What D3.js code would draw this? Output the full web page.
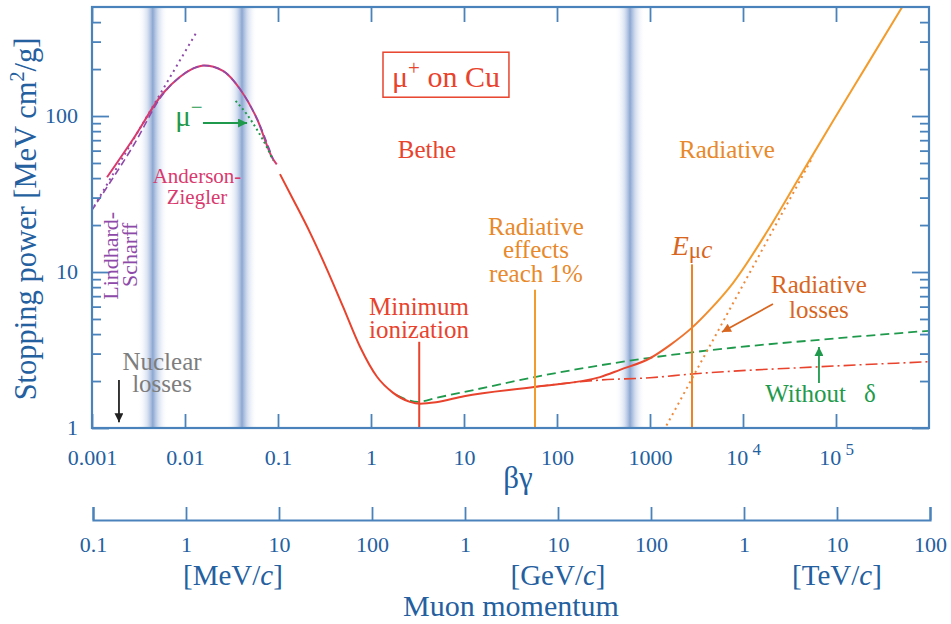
<!DOCTYPE html>
<html>
<head>
<meta charset="utf-8">
<script src="https://cdn.jsdelivr.net/npm/d3@7"></script>
<style>
body { margin: 0; background: #fff; }
svg, svg text { font-family: "Liberation Serif", "Tinos", "Times New Roman", "DejaVu Serif", "Noto Serif", serif; }
svg { display: block; }
</style>
</head>
<body>
<svg id="chart" width="951" height="624"></svg>
<script>
// ---- data ----
const bgTicks = [1e-3, 1e-2, 0.1, 1, 10, 100, 1000, 1e4, 1e5];
const bgLabels = ["0.001", "0.01", "0.1", "1", "10", "100", "1000", "10^4", "10^5"];
const spTicks = [1, 10, 100];
const spMinor = [2, 3, 4, 5, 6, 7, 8, 9, 20, 30, 40, 50, 60, 70, 80, 90, 200, 300, 400];
const pTicks = [0.1, 1, 10, 100, 1e3, 1e4, 1e5, 1e6, 1e7, 1e8]; // MeV/c
const pLabels = ["0.1", "1", "10", "100", "1", "10", "100", "1", "10", "100"];
const pUnits = [[3.2, "MeV"], [1e4, "GeV"], [1e7, "TeV"]];

// [beta*gamma, stopping power MeV cm2/g]
const andersonZiegler = [[0.00145, 40.5], [0.00276, 71], [0.0058, 140], [0.0088, 178], [0.0125, 203],
  [0.016, 211], [0.0256, 195], [0.039, 149], [0.0594, 96], [0.0883, 53], [0.097, 49]];
const lindhardDashed = [[0.00098, 24.5], [0.00145, 35], [0.00276, 64], [0.0058, 138], [0.0088, 178],
  [0.0125, 203], [0.016, 211], [0.0256, 195], [0.039, 149], [0.0594, 96], [0.0883, 53]];
const lindhardScharff = [[0.00098, 24.5], [0.0135, 350]];
const muMinus = [[0.035, 125], [0.046, 103], [0.06, 81], [0.075, 64], [0.0883, 52]];
const betheTotal = [[0.105, 42.4], [0.145, 29.3], [0.221, 17.9], [0.336, 10.4], [0.5, 6.0], [0.762, 3.32],
  [1.16, 2.13], [1.73, 1.68], [2.62, 1.47], [3.4, 1.43], [5, 1.46], [10, 1.6], [59, 1.84], [290, 2.12],
  [475, 2.36], [1000, 2.8], [1640, 3.4], [2830, 4.4], [4420, 5.74], [7800, 8.5], [18100, 18.1],
  [41000, 41.1], [92900, 93], [215000, 212], [525000, 510]];
const ionizationOnly = [[60, 1.84], [290, 2.03], [1000, 2.1], [2830, 2.22], [67300, 2.47], [1e6, 2.66]];
const withoutDelta = [[1.9, 1.62], [3.2, 1.47], [5, 1.56], [10, 1.7], [59.4, 2.13], [1000, 2.82],
  [7800, 3.27], [67300, 3.68], [1e6, 4.2]];
const radiativeLosses = [[1400, 0.96], [56600, 55]];
const bands = [0.0045, 0.041, 610];
const markerBg = [3.3, 58, 2830];
const markerTop = [3.57, 7.7, 11.2];

const red = "#e8432d", orange = "#f39c2e", orangeText = "#e8892b", darkOrange = "#d8661f";
const green = "#1f9a4c", pink = "#d93a6e", purple = "#8e4aa8";
const axisBlue = "#4a82bb", textBlue = "#2460a0";

const svg = d3.select("#chart");
const x = d3.scaleLog().domain([1e-3, 1e6]).range([92, 929]);
const y = d3.scaleLog().domain([1, 500]).range([428, 7]);
const xp = d3.scaleLog().domain([0.1, 1e8]).range([93, 930]);

const defs = svg.append("defs");
defs.append("clipPath").attr("id", "plot").append("rect")
  .attr("x", 92).attr("y", 7).attr("width", 837).attr("height", 421);

let band = defs.append("linearGradient").attr("id", "band");
[[0, "#ffffff", 0], [0.3, "#c7d4ec", 0.6], [0.5, "#86a2cf", 0.95], [0.7, "#c0cfe9", 0.6], [1, "#ffffff", 0]]
  .forEach(s => band.append("stop").attr("offset", s[0]).attr("stop-color", s[1]).attr("stop-opacity", s[2]));

let grad = defs.append("linearGradient").attr("id", "betheGrad").attr("gradientUnits", "userSpaceOnUse")
  .attr("x1", x(700)).attr("x2", x(6000)).attr("y1", 0).attr("y2", 0);
grad.append("stop").attr("offset", 0).attr("stop-color", red);
grad.append("stop").attr("offset", 1).attr("stop-color", orange);

function arrowHead(id, color) {
  defs.append("marker").attr("id", id).attr("viewBox", "0 0 10 10").attr("refX", 10).attr("refY", 5)
    .attr("markerUnits", "userSpaceOnUse").attr("markerWidth", 14).attr("markerHeight", 9).attr("orient", "auto")
    .append("path").attr("d", "M0,0L10,5L0,10z").attr("fill", color);
}
arrowHead("aGreen", green);
arrowHead("aOrange", darkOrange);
arrowHead("aBlack", "#222");

// shaded bands
svg.append("g").selectAll("rect").data(bands).join("rect")
  .attr("x", d => x(d) - 15).attr("y", 7).attr("width", 30).attr("height", 421)
  .attr("fill", "url(#band)");

// curves
const line = d3.line().x(d => x(d[0])).y(d => y(d[1])).curve(d3.curveMonotoneX);
const straight = d3.line().x(d => x(d[0])).y(d => y(d[1]));
const plot = svg.append("g").attr("clip-path", "url(#plot)").attr("fill", "none");

plot.append("path").attr("d", straight(lindhardScharff))
  .attr("stroke", purple).attr("stroke-width", 2).attr("stroke-dasharray", "2,4");
plot.append("path").attr("d", line(andersonZiegler)).attr("stroke", pink).attr("stroke-width", 2);
plot.append("path").attr("d", line(lindhardDashed)).attr("stroke", purple).attr("stroke-width", 1.6)
  .attr("stroke-dasharray", "7,4");
plot.append("path").attr("d", line(muMinus)).attr("stroke", green).attr("stroke-width", 2)
  .attr("stroke-dasharray", "2,3");
plot.append("path").attr("d", line(withoutDelta)).attr("stroke", green).attr("stroke-width", 1.8)
  .attr("stroke-dasharray", "9,5");
plot.append("path").attr("d", line(ionizationOnly)).attr("stroke", red).attr("stroke-width", 1.6)
  .attr("stroke-dasharray", "12,4,2,4");
plot.append("path").attr("d", straight(radiativeLosses))
  .attr("stroke", "#f08a3a").attr("stroke-width", 2).attr("stroke-dasharray", "2,4");
plot.append("path").attr("d", line(betheTotal)).attr("stroke", "url(#betheGrad)").attr("stroke-width", 2);

// vertical markers
const markerColor = [red, orange, "#ee8326"];
svg.append("g").selectAll("line").data(markerBg).join("line")
  .attr("x1", d => x(d)).attr("x2", d => x(d))
  .attr("y1", (d, i) => y(markerTop[i])).attr("y2", 428)
  .attr("stroke", (d, i) => markerColor[i]).attr("stroke-width", 2);

// axes
function styleAxis(g, size) {
  g.select(".domain").remove();
  g.selectAll(".tick line").attr("stroke", axisBlue).attr("stroke-width", 1.8);
  g.selectAll(".tick text").attr("fill", textBlue).attr("font-size", size || 22).attr("font-family", null);
}
function supLabel(sel, labels) {
  sel.selectAll(".tick text").each(function (d, i) {
    const t = d3.select(this), lab = labels[i];
    if (lab.includes("^")) {
      const [b, e] = lab.split("^");
      t.text(b);
      t.append("tspan").attr("dy", "-0.55em").attr("font-size", 17).text(" " + e);
    } else t.text(lab);
  });
}

const gb = svg.append("g").attr("transform", "translate(0,428)")
  .call(d3.axisBottom(x).tickValues(bgTicks).tickSize(-14).tickPadding(21).tickFormat(() => ""));
styleAxis(gb);
supLabel(gb, bgLabels);

const gt = svg.append("g").attr("transform", "translate(0,7)")
  .call(d3.axisTop(x).tickValues(bgTicks).tickSize(-15).tickFormat(""));
styleAxis(gt);

const gl = svg.append("g").attr("transform", "translate(92,0)")
  .call(d3.axisLeft(y).tickValues(spTicks).tickSize(-17).tickPadding(14).tickFormat(d3.format("d")));
styleAxis(gl);
gl.selectAll(".tick text").attr("dy", "0.3em");
const glm = svg.append("g").attr("transform", "translate(92,0)")
  .call(d3.axisLeft(y).tickValues(spMinor).tickSize(-9).tickFormat(""));
styleAxis(glm);

const gr = svg.append("g").attr("transform", "translate(929,0)")
  .call(d3.axisRight(y).tickValues(spTicks).tickSize(-17).tickFormat(""));
styleAxis(gr);
const grm = svg.append("g").attr("transform", "translate(929,0)")
  .call(d3.axisRight(y).tickValues(spMinor).tickSize(-9).tickFormat(""));
styleAxis(grm);

svg.append("rect").attr("x", 92).attr("y", 7).attr("width", 837).attr("height", 421)
  .attr("fill", "none").attr("stroke", axisBlue).attr("stroke-width", 2.2);

// momentum axis
const gp = svg.append("g").attr("transform", "translate(0,520)")
  .call(d3.axisTop(xp).tickValues(pTicks).tickSize(13).tickSizeOuter(13).tickFormat(""));
gp.select(".domain").attr("stroke", axisBlue).attr("stroke-width", 2.2);
gp.selectAll(".tick line").attr("stroke", axisBlue).attr("stroke-width", 1.8);
const gpl = svg.append("g").attr("transform", "translate(0,520)")
  .call(d3.axisBottom(xp).tickValues(pTicks).tickSize(0).tickPadding(16).tickFormat((d, i) => pLabels[i]));
styleAxis(gpl);

const units = svg.append("g").attr("fill", textBlue).attr("font-size", 29).attr("text-anchor", "middle");
pUnits.forEach(u => {
  const t = units.append("text").attr("x", xp(u[0])).attr("y", 585).text("[" + u[1] + "/");
  t.append("tspan").attr("font-style", "italic").text("c");
  t.append("tspan").text("]");
});
svg.append("text").attr("x", 511).attr("y", 616).attr("text-anchor", "middle")
  .attr("fill", textBlue).attr("font-size", 30).text("Muon momentum");
svg.append("text").attr("x", 518).attr("y", 488).attr("text-anchor", "middle")
  .attr("fill", textBlue).attr("font-size", 31).text("βγ");

const yt = svg.append("text").attr("transform", "translate(36,219) rotate(-90)").attr("text-anchor", "middle")
  .attr("fill", textBlue).attr("font-size", 30.5).text("Stopping power [MeV cm");
yt.append("tspan").attr("dy", -12).attr("font-size", 20).text("2");
yt.append("tspan").attr("dy", 12).text("/g]");

// annotations: [text lines, beta*gamma, stopping power at first baseline, colour, size, line gap]
const notes = [
  [["Bethe"], 4.0, 53.8, red, 25, 0],
  [["Radiative"], 6730, 53.8, orangeText, 25, 0],
  [["Radiative", "effects", "reach 1%"], 59.4, 17.3, orangeText, 25, 23.5],
  [["Minimum", "ionization"], 3.28, 5.3, red, 25, 23],
  [["Radiative", "losses"], 65600, 7.33, darkOrange, 25, 25],
  [["Nuclear", "losses"], 0.00566, 2.35, "#7d7d7d", 25, 22],
  [["Anderson-", "Ziegler"], 0.01346, 37.2, pink, 21, 21]
];
const ann = svg.append("g").attr("text-anchor", "middle");
notes.forEach(n => {
  const t = ann.append("text").attr("fill", n[3]).attr("font-size", n[4]);
  n[0].forEach((s, i) => t.append("tspan").attr("x", x(n[1])).attr("y", y(n[2]) + i * n[5]).text(s));
});

// mu+ on Cu box
const box = svg.append("text").attr("x", x(6.4)).attr("y", y(153)).attr("text-anchor", "middle")
  .attr("fill", red).attr("font-size", 30).text("μ");
box.append("tspan").attr("dy", -12).attr("font-size", 21).text("+");
box.append("tspan").attr("dy", 12).text(" on Cu");
const bb = box.node().getBBox();
svg.append("rect").attr("x", bb.x - 9).attr("y", y(153) - 35).attr("width", bb.width + 18).attr("height", 45)
  .attr("fill", "none").attr("stroke", red).attr("stroke-width", 1.5);

// E_mu c
const em = svg.append("text").attr("x", x(2830)).attr("y", y(12.9)).attr("text-anchor", "middle")
  .attr("fill", darkOrange).attr("font-size", 28);
em.append("tspan").attr("font-style", "italic").text("E");
em.append("tspan").attr("font-size", 23).attr("dy", 3).text("μ");
em.append("tspan").attr("font-size", 25).attr("font-style", "italic").text("c");

// Without delta
const wd = svg.append("text").attr("x", x(17300)).attr("y", y(1.47)).attr("fill", green).attr("font-size", 25)
  .text("Without");
wd.append("tspan").attr("dx", 18).text("δ");

// mu-
const mm = svg.append("text").attr("x", x(0.011)).attr("y", y(86.3)).attr("text-anchor", "middle")
  .attr("fill", green).attr("font-size", 29).text("μ");
mm.append("tspan").attr("dy", -12).attr("font-size", 21).text("−");

// Lindhard-Scharff (rotated)
[["Lindhard-", 0.00191, 12.7], ["Scharff", 0.00305, 12.9]].forEach(l => {
  svg.append("text").attr("transform", `translate(${x(l[1])},${y(l[2])}) rotate(-90)`)
    .attr("text-anchor", "middle").attr("fill", purple).attr("font-size", 22).text(l[0]);
});

// arrows [from bg, from S, to bg, to S, marker, colour]
const arrows = [
  [0.0156, 90.2, 0.0465, 90.2, "aGreen", green],
  [21000, 6.24, 5940, 4.12, "aOrange", darkOrange],
  [65600, 1.94, 65600, 3.31, "aGreen", green],
  [0.00195, 2.03, 0.00195, 1.09, "aBlack", "#222"]
];
svg.append("g").selectAll("line").data(arrows).join("line")
  .attr("x1", d => x(d[0])).attr("y1", d => y(d[1])).attr("x2", d => x(d[2])).attr("y2", d => y(d[3]))
  .attr("stroke", d => d[5]).attr("stroke-width", 1.8).attr("marker-end", d => `url(#${d[4]})`);
</script>
</body>
</html>
